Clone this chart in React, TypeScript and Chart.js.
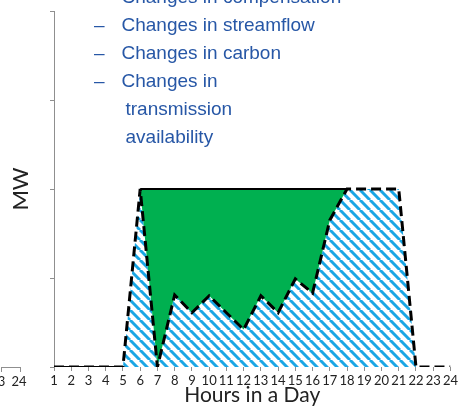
import React, { useEffect, useRef } from "react";
import { Chart, registerables } from "chart.js";

Chart.register(...registerables);

// ---- data ----
const hours = [1, 2, 3, 4, 5, 6, 7, 8, 9, 10, 11, 12, 13, 14, 15, 16, 17, 18, 19, 20, 21, 22, 23, 24];
const capacityMW = [null, null, null, null, null, 2, 2, 2, 2, 2, 2, 2, 2, 2, 2, 2, 2, 2, null, null, null, null, null, null];
const generationMW = [0, 0, 0, 0, 0, 2, 0, 0.81, 0.61, 0.8, 0.61, 0.42, 0.8, 0.61, 0.99, 0.83, 1.65, 2, 2, 2, 2, 0, 0, 0];
const baselineMW = [0, 0, 0, 0, 0, null, null, null, null, null, null, null, null, null, null, null, null, null, null, null, null, null, null, null];
const yTickValues = [0, 1, 2, 3, 4];
const bulletLines = ["Changes in compensation", "Changes in streamflow", "Changes in carbon", "Changes in"];
const continuationLines = ["transmission", "availability"];
const leftoverTicks = ["3", "24"];

const GREEN = "#00B050";
const HATCH = "#1AA6E4";
const TEXT_BLUE = "#2757A6";
const AXIS_GRAY = "#8f8f8f";

function makeHatch(): CanvasPattern | string {
  const s = 10;
  const c = document.createElement("canvas");
  c.width = s;
  c.height = s;
  const g = c.getContext("2d");
  if (!g) return HATCH;
  g.fillStyle = "#ffffff";
  g.fillRect(0, 0, s, s);
  g.strokeStyle = HATCH;
  g.lineWidth = 3;
  for (let k = -1; k <= 1; k++) {
    g.beginPath();
    g.moveTo(k * s, 0);
    g.lineTo(k * s + s, s);
    g.stroke();
  }
  const p = g.createPattern(c, "repeat");
  return p || HATCH;
}

const toPoints = (vals: (number | null)[]) => hours.map((h, i) => ({ x: h, y: vals[i] }));

export default function App() {
  const ref = useRef<HTMLCanvasElement | null>(null);

  useEffect(() => {
    if (!ref.current) return;
    const hatch = makeHatch();
    const chart = new Chart(ref.current, {
      type: "line",
      data: {
        datasets: [
          {
            label: "Capacity",
            data: toPoints(capacityMW) as any,
            borderColor: "#000000",
            borderWidth: 2,
            backgroundColor: GREEN,
            fill: { target: 1 },
            pointRadius: 0,
            tension: 0,
            spanGaps: false,
          },
          {
            label: "Generation",
            data: toPoints(generationMW) as any,
            borderColor: "#000000",
            borderWidth: 3,
            borderDash: [10, 5],
            backgroundColor: hatch as any,
            fill: "origin",
            pointRadius: 0,
            tension: 0,
          },
          {
            label: "Baseline",
            data: toPoints(baselineMW) as any,
            borderColor: "#000000",
            borderWidth: 2,
            fill: false,
            pointRadius: 0,
            tension: 0,
          },
        ],
      },
      options: {
        responsive: false,
        animation: false,
        layout: { padding: { left: 0, right: 9, top: 11, bottom: 0 } },
        plugins: {
          legend: { display: false },
          tooltip: { enabled: false },
          filler: { drawTime: "beforeDatasetsDraw" } as any,
        },
        scales: {
          x: {
            type: "linear",
            min: 1,
            max: 24,
            afterFit: (s: any) => {
              s.height = 39;
            },
            afterBuildTicks: (s: any) => {
              s.ticks = hours.map((h) => ({ value: h }));
            },
            ticks: {
              autoSkip: false,
              maxRotation: 0,
              padding: 2,
              color: "#222222",
              font: { family: "Lato", size: 13 },
            },
            grid: { drawOnChartArea: false, drawTicks: true, tickLength: 4, color: AXIS_GRAY },
            border: { display: false },
            title: {
              display: true,
              text: "Hours in a Day",
              color: "#222222",
              font: { family: "Lato", size: 21, lineHeight: 1 },
              padding: { top: 0, bottom: 0 },
            },
          },
          y: {
            min: 0,
            max: 4,
            afterFit: (s: any) => {
              s.width = 54;
            },
            afterBuildTicks: (s: any) => {
              s.ticks = yTickValues.map((v) => ({ value: v }));
            },
            ticks: { display: false },
            grid: { drawOnChartArea: false, drawTicks: true, tickLength: 4, color: AXIS_GRAY },
            border: { display: true, color: AXIS_GRAY, width: 1 },
            title: {
              display: true,
              text: "MW",
              color: "#222222",
              font: { family: "Lato", size: 22, lineHeight: 1 },
              padding: { top: 9.5, bottom: 0 },
            },
          },
        },
      },
    });
    return () => chart.destroy();
  }, []);

  const textStyle: React.CSSProperties = {
    position: "absolute",
    fontFamily: "'Liberation Sans', Arial, sans-serif",
    fontSize: "19px",
    lineHeight: "19px",
    color: TEXT_BLUE,
    whiteSpace: "nowrap",
  };

  return (
    <div style={{ position: "absolute", left: 0, top: 0, width: 460, height: 406, overflow: "hidden", background: "#fff" }}>
      <canvas ref={ref} width={460} height={406} style={{ position: "absolute", left: 0, top: 0, width: 460, height: 406 }} />
      {bulletLines.map((t, i) => (
        <React.Fragment key={"b" + i}>
          <div style={{ ...textStyle, left: 94, top: -13 + i * 28 }}>–</div>
          <div style={{ ...textStyle, left: 121.5, top: -13 + i * 28 }}>{t}</div>
        </React.Fragment>
      ))}
      {continuationLines.map((t, i) => (
        <div key={"c" + i} style={{ ...textStyle, left: 125.5, top: -13 + (bulletLines.length + i) * 28 }}>
          {t}
        </div>
      ))}
      <div
        style={{
          position: "absolute",
          left: 1,
          top: 367,
          width: 18,
          height: 4,
          borderTop: `1px solid ${AXIS_GRAY}`,
          borderLeft: `1px solid ${AXIS_GRAY}`,
          borderRight: `1px solid ${AXIS_GRAY}`,
        }}
      />
      {leftoverTicks.map((t, i) => (
        <div
          key={"l" + i}
          style={{
            position: "absolute",
            left: i === 0 ? -8.5 : 9,
            width: 20,
            textAlign: "center",
            top: 374,
            fontFamily: "Lato, sans-serif",
            fontSize: "13px",
            lineHeight: "15px",
            color: "#222222",
          }}
        >
          {t}
        </div>
      ))}
    </div>
  );
}
